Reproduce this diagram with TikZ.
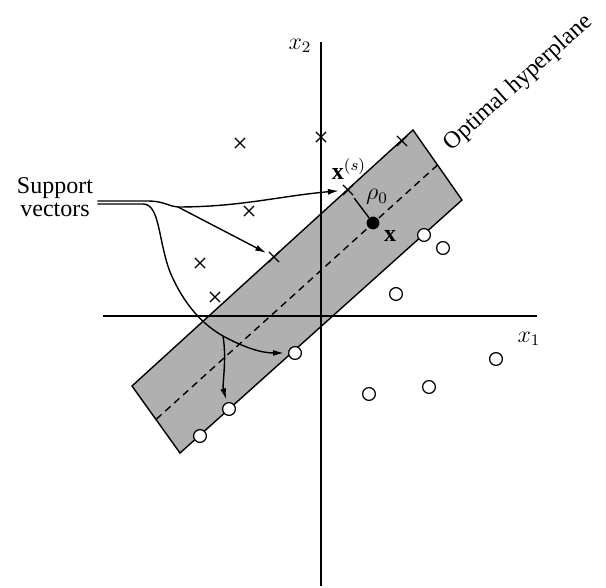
\documentclass[tikz,border=0pt]{standalone}
\usepackage{fontspec}
\setmainfont{Liberation Serif}
\usepackage{tikz}
\usetikzlibrary{arrows.meta,positioning,calc,shapes.misc}
\definecolor{bandgray}{HTML}{B0B0B0}
\tikzset{
  sxmark/.style={cross out,draw=black,minimum size=4.5pt,inner sep=0pt,line width=0.6pt},
  somark/.style={circle,draw=black,fill=white,minimum size=6.4pt,inner sep=0pt,line width=0.6pt},
  sdot/.style={circle,fill=black,minimum size=6.4pt,inner sep=0pt},
  sband/.style={fill=bandgray,draw=black,line width=0.7pt},
  sline/.style={line width=0.7pt,draw=black},
  sdash/.style={line width=0.7pt,draw=black,dash pattern=on 3.5pt off 2.5pt},
  sarr/.style={-{Latex[length=5.5pt,width=3pt]},line width=0.7pt,draw=black,shorten >=1.5pt}
}
\begin{document}
\begin{tikzpicture}[x=0.5pt,y=-0.5pt,font=\fontsize{12}{11.7}\selectfont]
  \useasboundingbox (0,0) rectangle (606,588);
  % band of the margin
  \coordinate (b1) at (413,130); \coordinate (b2) at (462,200);
  \coordinate (b3) at (180,453); \coordinate (b4) at (132,386);
  \draw[sband] (b1) -- (b2) -- (b3) -- (b4) -- cycle;
  \draw[sdash] ($(b1)!0.5!(b2)$) -- ($(b3)!0.5!(b4)$);
  % axes
  \coordinate (vt) at (321,42); \coordinate (vb) at (321,586);
  \coordinate (hl) at (103,316); \coordinate (hr) at (537,316);
  \draw[sline] (vt) -- (vb);
  \draw[sline] (hl) -- (hr);
  \node (x2) at (300,46) {$x_2$};
  \node (x1) at (529,339) {$x_1$};
  \node[rotate=42,anchor=base west] (oh) at (446,156) {Optimal hyperplane};
  % data points
  \foreach \px/\py [count=\i] in {240/143,321/137,249/211,200/263,215/297}
    \node[sxmark] (m\i) at (\px,\py) {};
  \foreach \px/\py [count=\i] in {443/248,396/294,496/359,429/387,369/394}
    \node[somark] (o\i) at (\px,\py) {};
  \node[sxmark] (s1) at (402,141) {};
  \node[sxmark] (s2) at (348,190) {};
  \node[sxmark] (s3) at (274,257) {};
  \node[somark] (t1) at (424,235) {};
  \node[somark] (t2) at (295,353) {};
  \node[somark] (t3) at (229,409) {};
  \node[somark] (t4) at (200,436) {};
  \node[sdot] (x) at (373,223) {};
  \draw[sline] (x) -- ($(x)!0.75!(s2)$);
  \node (xs) at (349,169) {$\mathbf{x}^{(s)}$};
  \node (rho) at (377,197) {$\rho_0$};
  \node (xl) at (390,236) {$\mathbf{x}$};
  % support vector pointers
  \node[align=center,inner sep=2pt] (sv) at (55,197) {Support\\vectors};
  \coordinate (ja) at (178,207);
  \coordinate (jb) at (223,336);
  \draw[sline] ($(sv.east)+(0,4)$) -- (147,201) .. controls (165,201) and (170,207) .. (ja);
  \draw[sarr,shorten >=2pt] (ja) .. controls (240,207) and (280,196) .. (s2);
  \draw[sarr] (ja) -- (s3);
  \draw[sline] ($(sv.east)+(0,7)$) -- (143,204) .. controls (160,204) and (158,240) .. (170,272)
     .. controls (181,298) and (198,322) .. (jb);
  \draw[sarr,shorten >=2pt] (jb) .. controls (245,348) and (262,353) .. (t2);
  \draw[sarr] (jb) .. controls (227,360) and (222,385) .. (t3);
\end{tikzpicture}
\end{document}
